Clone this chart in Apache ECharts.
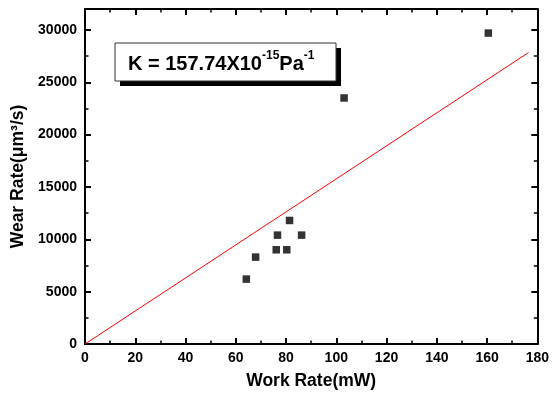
<!DOCTYPE html>
<html><head><meta charset="utf-8">
<script src="https://cdn.jsdelivr.net/npm/echarts@6/dist/echarts.min.js"></script>
<style>html,body{margin:0;padding:0;background:#fff}#c{width:552px;height:398px}</style>
</head><body><div id="c"></div>
<script>
const workRate = [64.2, 67.9, 76.1, 76.6, 80.3, 81.4, 86.2, 103.1, 160.5];
const wearRate = [6200, 8300, 9000, 10400, 9000, 11800, 10400, 23500, 29700];
const fitX = [0, 176.5];
const fitY = [0, 27840];
const xTicks = [0, 20, 40, 60, 80, 100, 120, 140, 160, 180];
const yTicks = [0, 5000, 10000, 15000, 20000, 25000, 30000];

const chart = echarts.init(document.getElementById('c'));
const font = 'Liberation Sans, Arial, sans-serif';
const axisCommon = {
  axisLine: {show: true, onZero: false, lineStyle: {color: '#000', width: 2}},
  axisTick: {show: true, inside: true, length: 6, lineStyle: {color: '#000', width: 2}},
  minorTick: {show: true, splitNumber: 2, length: 3.5, lineStyle: {color: '#000', width: 1.5}},
  splitLine: {show: false}
};
chart.setOption({
  animation: false,
  grid: {left: 85, right: 12, top: 9, bottom: 54},
  xAxis: [
    Object.assign({}, axisCommon, {
      type: 'value', min: xTicks[0], max: xTicks[xTicks.length - 1], interval: 20, position: 'bottom',
      name: 'Work Rate(mW)', nameLocation: 'middle', nameGap: 28,
      nameTextStyle: {fontFamily: font, fontWeight: 'bold', fontSize: 17.5, color: '#000'},
      axisLabel: {fontFamily: font, fontWeight: 'bold', fontSize: 14, color: '#000', margin: 7}
    }),
    Object.assign({}, axisCommon, {
      type: 'value', min: xTicks[0], max: xTicks[xTicks.length - 1], interval: 20, position: 'top',
      axisLabel: {show: false}
    })
  ],
  yAxis: [
    Object.assign({}, axisCommon, {
      type: 'value', min: 0, max: 32000, interval: 5000, position: 'left',
      name: 'Wear Rate(μm³/s)', nameLocation: 'middle', nameGap: 58,
      nameTextStyle: {fontFamily: font, fontWeight: 'bold', fontSize: 17.5, color: '#000'},
      axisLabel: {fontFamily: font, fontWeight: 'bold', fontSize: 14, color: '#000', margin: 8,
        formatter: v => yTicks.includes(v) ? String(v) : ''}
    }),
    Object.assign({}, axisCommon, {
      type: 'value', min: 0, max: 32000, interval: 5000, position: 'right',
      axisLabel: {show: false}
    })
  ],
  series: [
    {type: 'line', xAxisIndex: 0, yAxisIndex: 0, data: fitX.map((x, i) => [x, fitY[i]]),
     symbol: 'none', lineStyle: {color: '#ff0000', width: 1}, z: 2},
    {type: 'scatter', xAxisIndex: 0, yAxisIndex: 0, data: workRate.map((x, i) => [x, wearRate[i]]),
     symbol: 'rect', symbolSize: 7.5, itemStyle: {color: '#000'}, z: 3}
  ],
  graphic: [
    {type: 'rect', shape: {x: 120, y: 48, width: 221, height: 38}, style: {fill: '#000'}},
    {type: 'rect', shape: {x: 115, y: 43, width: 221, height: 38}, style: {fill: '#fff', stroke: '#333', lineWidth: 1}},
    {type: 'text', x: 128, y: 62, style: {
      text: '{b|K = 157.74X10}{s|-15}{b|Pa}{s|-1}',
      verticalAlign: 'middle',
      rich: {
        b: {fontFamily: font, fontWeight: 'bold', fontSize: 20, fill: '#000', verticalAlign: 'bottom', lineHeight: 24},
        s: {fontFamily: font, fontWeight: 'bold', fontSize: 12, fill: '#000', verticalAlign: 'top', lineHeight: 24}
      }
    }}
  ]
});
</script></body></html>
